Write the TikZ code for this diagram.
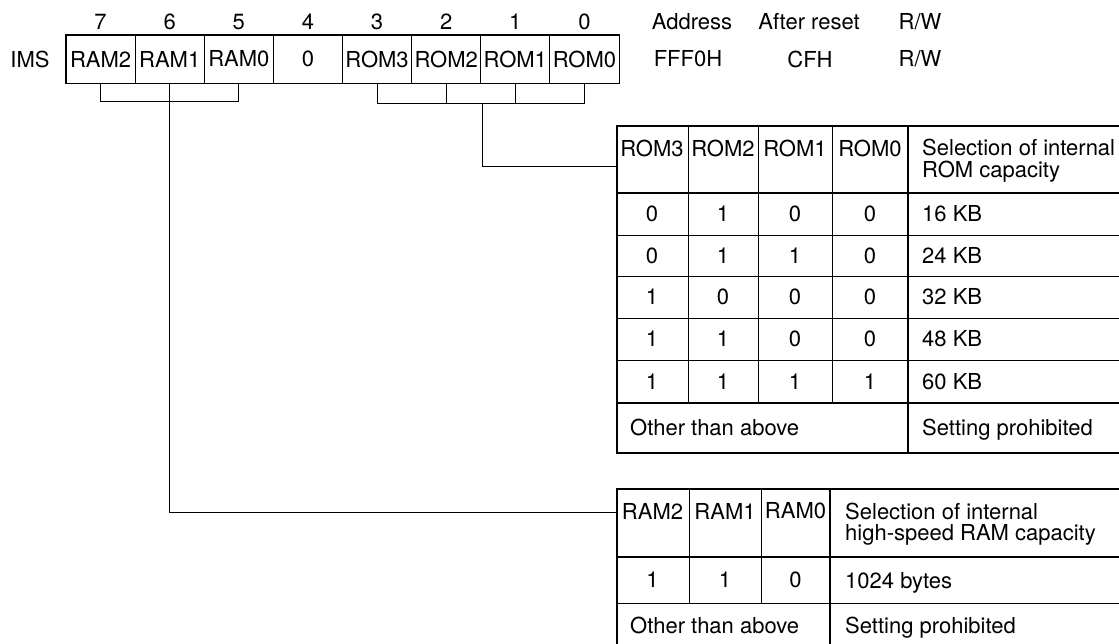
\documentclass[tikz,border=0pt]{standalone}
\usepackage{fontspec}
\setmainfont{TeX Gyre Heros}
\begin{document}
\begin{tikzpicture}[x=1pt,y=-1pt,
  every node/.style={font=\fontsize{22}{26}\selectfont, inner sep=0pt},
  lbl/.style={anchor=center},
  lblw/.style={anchor=base west},
  thinln/.style={line width=0.9pt},
  thickln/.style={line width=1.7pt},
  regcell/.style={draw, line width=0.9pt, minimum width=69.125pt, minimum height=48pt, inner sep=0pt},
  frame/.style={draw, line width=1.7pt, anchor=north west, inner sep=0pt}]
\useasboundingbox (0,0) rectangle (1119,644);
\clip (0,0) rectangle (1119,644);

% ---------- register ----------
\node[lbl] (ims) at (30,59) {IMS};
\node[regcell] (r7) at (100.56,59) {RAM2};
\node[regcell] (r6) at (169.69,59) {RAM1};
\node[regcell] (r5) at (238.81,59) {RAM0};
\node[regcell] (r4) at (307.94,59) {0};
\node[regcell] (r3) at (377.06,59) {ROM3};
\node[regcell] (r2) at (446.19,59) {ROM2};
\node[regcell] (r1) at (515.31,59) {ROM1};
\node[regcell] (r0) at (584.44,59) {ROM0};
\draw[thickln] (r7.north west) rectangle (r0.south east);

\foreach \n/\x in {7/100.56,6/169.69,5/238.81,4/307.94,3/377.06,2/446.19,1/515.31,0/584.44}
  \node[lbl] (n\n) at (\x,22) {\n};

\node[lbl] (addr) at (692,22) {Address};
\node[lbl] (rst) at (809,22) {After reset};
\node[lbl] (rw) at (920,22) {R/W};
\node[lbl] (addrv) at (688,59) {FFF0H};
\node[lbl] (rstv) at (810,59) {CFH};
\node[lbl] (rwv) at (920,59) {R/W};

% ---------- ROM table ----------
\node[frame, minimum width=505pt, minimum height=327pt] (romtab) at (616,125) {};
\coordinate (romin) at (616,166);
\draw[thinln] (688,125) -- (688,403) (758,125) -- (758,403) (832,125) -- (832,403);
\draw[thinln] (616,235) -- (1121,235) (616,276) -- (1121,276) (616,318) -- (1121,318) (616,360) -- (1121,360);
\draw[thickln] (616,193) -- (1121,193) (908,125) -- (908,452) (616,403) -- (1121,403);

\node[lbl] (rh3) at (652,148) {ROM3};
\node[lbl] (rh2) at (723,148) {ROM2};
\node[lbl] (rh1) at (795,148) {ROM1};
\node[lbl] (rh0) at (870,148) {ROM0};
\node[lblw] (rhd1) at (922,156) {Selection of internal};
\node[lblw] (rhd2) at (922,177.5) {ROM capacity};

\foreach \i/\y/\a/\b/\c/\d/\t in {1/214/0/1/0/0/16 KB,2/255.5/0/1/1/0/24 KB,3/297/1/0/0/0/32 KB,4/339/1/1/0/0/48 KB,5/381.5/1/1/1/1/60 KB}{
  \node[lbl] (ra\i) at (652,\y) {\a};
  \node[lbl] (rb\i) at (723,\y) {\b};
  \node[lbl] (rc\i) at (795,\y) {\c};
  \node[lbl] (rd\i) at (870,\y) {\d};
  \node[lblw] (rt\i) at (922,\y+7.9) {\t};
}
\node[lblw] (roth) at (630,435.5) {Other than above};
\node[lblw] (rset) at (922,435.5) {Setting prohibited};

% ---------- RAM table ----------
\node[frame, minimum width=505pt, minimum height=160pt] (ramtab) at (616,488) {};
\coordinate (ramin) at (616,512);
\draw[thinln] (689,488) -- (689,603) (761,488) -- (761,603);
\draw[thinln] (616,603) -- (1121,603);
\draw[thickln] (616,557) -- (1121,557) (830,488) -- (830,648);

\node[lbl] (mh2) at (652.5,511) {RAM2};
\node[lbl] (mh1) at (725,511) {RAM1};
\node[lbl] (mh0) at (795.5,511) {RAM0};
\node[lblw] (mhd1) at (845,519) {Selection of internal};
\node[lblw] (mhd2) at (845,540) {high-speed RAM capacity};
\node[lbl] (m2) at (652.5,580) {1};
\node[lbl] (m1) at (725,580) {1};
\node[lbl] (m0) at (795.5,580) {0};
\node[lblw] (mv) at (845,588) {1024 bytes};
\node[lblw] (moth) at (630,633.5) {Other than above};
\node[lblw] (mset) at (845,633.5) {Setting prohibited};

% ---------- connectors ----------
\draw[thinln] (r7.south) -- ++(0,18) -| (r5.south);
\draw[thinln] (r6.south) |- (ramin);
\draw[thinln] (r3.south) -- ++(0,20) -| (r0.south);
\draw[thinln] (r2.south) -- ++(0,20);
\draw[thinln] (r1.south) -- ++(0,20);
\coordinate (romj) at (482,103);
\draw[thinln] (romj) |- (romin);
\end{tikzpicture}
\end{document}
